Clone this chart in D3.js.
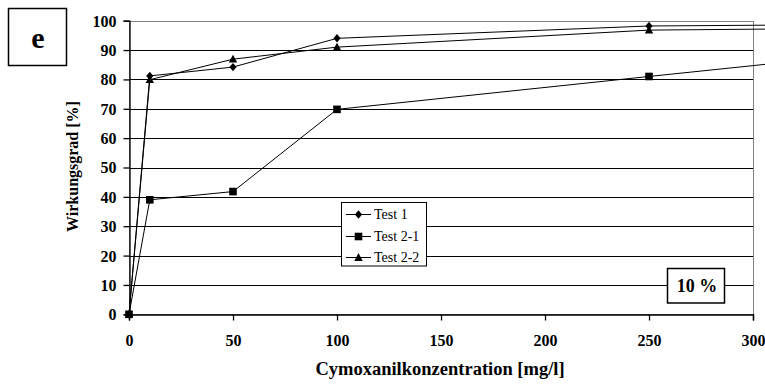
<!DOCTYPE html>
<html>
<head>
<meta charset="utf-8">
<script src="https://cdn.jsdelivr.net/npm/d3@7"></script>
<style>
  html, body { margin: 0; padding: 0; background: #fff; }
  svg { display: block; }
</style>
</head>
<body>
<svg id="chart" width="765" height="385"></svg>
<script>
// Cymoxanil concentrations [mg/l]
const concentrations = [0, 10, 50, 100, 250, 500];
// Efficiency [%] per test series
const test1  = [0, 81.2, 84.2, 94.0, 98.2, 99.4];
const test21 = [0, 39.0, 41.8, 69.8, 81.0, 99.5];
const test22 = [0, 79.9, 86.9, 91.0, 96.8, 98.3];
const seriesNames = ["Test 1", "Test 2-1", "Test 2-2"];
const markerTypes = ["diamond", "square", "triangle"];
const xTicks = [0, 50, 100, 150, 200, 250, 300];
const yTicks = [0, 10, 20, 30, 40, 50, 60, 70, 80, 90, 100];

const FONT = "Liberation Serif";
const svg = d3.select("#chart");
const plotLeft = 129, plotRight = 753, plotTop = 20.7, plotBottom = 314.3;

const x = d3.scaleLinear().domain([0, 300]).range([plotLeft, plotRight]);
const y = d3.scaleLinear().domain([0, 100]).range([plotBottom, plotTop]);

// horizontal gridlines
svg.append("g").selectAll("line").data(yTicks.filter(v => v > 0 && v < 100)).join("line")
  .attr("x1", plotLeft).attr("x2", plotRight)
  .attr("y1", d => Math.round(y(d)) + 0.5).attr("y2", d => Math.round(y(d)) + 0.5)
  .attr("stroke", "#000").attr("stroke-width", 1);

// plot area frame
svg.append("rect")
  .attr("x", plotLeft + 0.5).attr("y", Math.round(plotTop) + 0.5)
  .attr("width", plotRight - plotLeft).attr("height", Math.round(plotBottom) - Math.round(plotTop))
  .attr("fill", "none").attr("stroke", "#808080").attr("stroke-width", 1);

// axes
const yAxis = svg.append("g")
  .attr("transform", `translate(${plotLeft + 0.5},0)`)
  .call(d3.axisLeft(y).tickValues(yTicks).tickSize(6).tickPadding(7).tickFormat(d3.format("d")));
const xAxis = svg.append("g")
  .attr("transform", `translate(0,${Math.round(plotBottom) + 0.5})`)
  .call(d3.axisBottom(x).tickValues(xTicks).tickSize(6).tickPadding(14).tickFormat(d3.format("d")));
[yAxis, xAxis].forEach(g => {
  g.attr("font-family", FONT);
  g.select(".domain").attr("stroke", "#000").attr("stroke-width", 1.3);
  g.selectAll(".tick line").attr("stroke", "#000").attr("stroke-width", 1.3);
  g.selectAll("text").attr("font-family", FONT)
    .attr("font-size", 16).attr("font-weight", "bold").attr("fill", "#000");
});
yAxis.selectAll("text").attr("dy", "0.34em");

// marker shapes
const diamondType = { draw(ctx) { ctx.moveTo(0, -4.2); ctx.lineTo(3.6, 0); ctx.lineTo(0, 4.2); ctx.lineTo(-3.6, 0); ctx.closePath(); } };
const squareType = { draw(ctx) { ctx.rect(-3.8, -3.8, 7.6, 7.6); } };
const triangleType = { draw(ctx) { ctx.moveTo(0, -4.4); ctx.lineTo(4.2, 3.4); ctx.lineTo(-4.2, 3.4); ctx.closePath(); } };
const symbolFor = {
  diamond: d3.symbol().type(diamondType),
  square: d3.symbol().type(squareType),
  triangle: d3.symbol().type(triangleType)
};

// series lines, then markers (squares drawn last so they sit on top at the origin)
const series = [test1, test21, test22];
const line = d3.line().x((d, i) => x(concentrations[i])).y(d => y(d));

series.forEach(vals => {
  svg.append("path").datum(vals)
    .attr("d", line).attr("fill", "none").attr("stroke", "#000").attr("stroke-width", 1);
});
[2, 0, 1].forEach(s => {
  svg.append("g").selectAll("path").data(series[s]).join("path")
    .attr("transform", (d, i) => `translate(${x(concentrations[i])},${y(d)})`)
    .attr("d", symbolFor[markerTypes[s]]())
    .attr("fill", "#000");
});

// axis titles
svg.append("text")
  .attr("x", 440).attr("y", 375)
  .attr("text-anchor", "middle").attr("font-size", 18.5).attr("font-weight", "bold")
  .text("Cymoxanilkonzentration [mg/l]");
svg.append("text")
  .attr("transform", `translate(78,${(plotTop + plotBottom) / 2 - 1}) rotate(-90)`)
  .attr("text-anchor", "middle").attr("font-size", 16).attr("font-weight", "bold")
  .text("Wirkungsgrad [%]");

// panel label
svg.append("rect").attr("x", 8.5).attr("y", 8.5).attr("width", 58).attr("height", 57)
  .attr("fill", "#fff").attr("stroke", "#000").attr("stroke-width", 1.5);
svg.append("text").attr("x", 38).attr("y", 48).attr("text-anchor", "middle")
  .attr("font-size", 30).attr("font-weight", "bold").text("e");

// legend
const lg = svg.append("g");
lg.append("rect").attr("x", 341.5).attr("y", 202.5).attr("width", 85).attr("height", 63.5)
  .attr("fill", "#fff").attr("stroke", "#000").attr("stroke-width", 1);
const legendY = [214.5, 236.5, 257.5];
seriesNames.forEach((name, i) => {
  lg.append("line").attr("x1", 346).attr("x2", 371)
    .attr("y1", legendY[i]).attr("y2", legendY[i]).attr("stroke", "#000");
  lg.append("path").attr("transform", `translate(358.5,${legendY[i]})`)
    .attr("d", symbolFor[markerTypes[i]]()).attr("fill", "#000");
  lg.append("text").attr("x", 374).attr("y", legendY[i]).attr("dy", "0.35em")
    .attr("font-size", 14).text(name);
});

// concentration note
svg.append("rect").attr("x", 667.5).attr("y", 268.5).attr("width", 57).attr("height", 34.5)
  .attr("fill", "#fff").attr("stroke", "#000").attr("stroke-width", 1.5);
svg.append("text").attr("x", 697).attr("y", 292).attr("text-anchor", "middle")
  .attr("font-size", 18).attr("font-weight", "bold").text("10 %");

// every label uses the serif face
svg.selectAll("text").attr("font-family", FONT).attr("fill", "#000");
</script>
</body>
</html>
